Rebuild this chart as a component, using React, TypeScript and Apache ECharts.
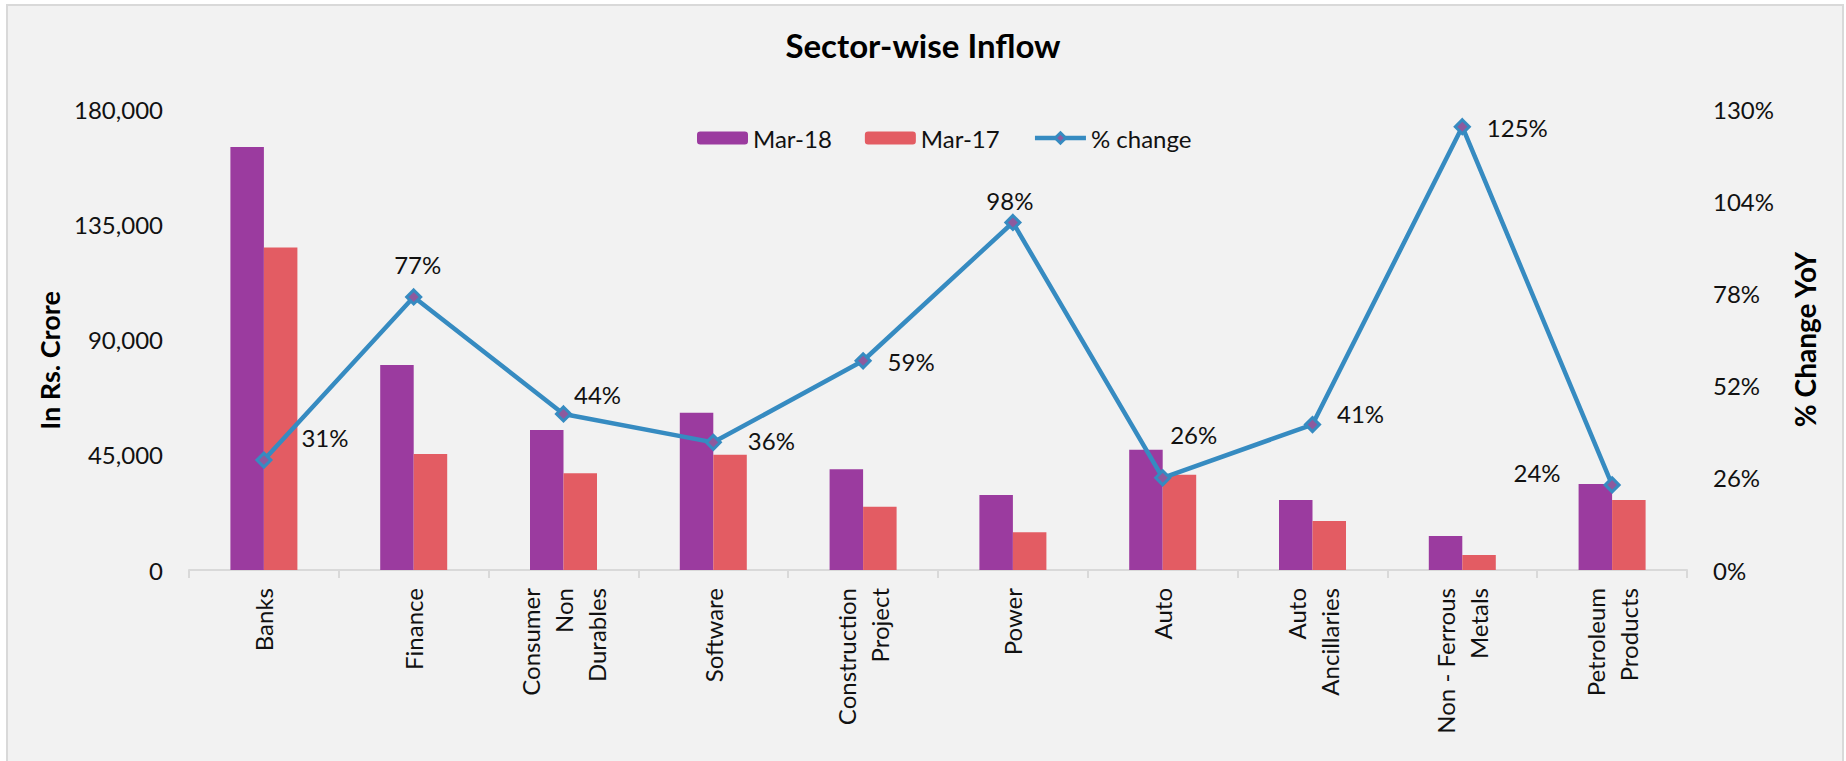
import React, { useEffect, useRef } from "react";
import * as echarts from "echarts";

const categories = [
  "Banks",
  "Finance",
  "Consumer\nNon\nDurables",
  "Software",
  "Construction\nProject",
  "Power",
  "Auto",
  "Auto\nAncillaries",
  "Non - Ferrous\nMetals",
  "Petroleum\nProducts",
];
const mar18 = [165200, 80000, 54700, 61400, 39300, 29300, 47000, 27300, 13300, 33600];
const mar17 = [125900, 45300, 37800, 45000, 24700, 14700, 37200, 19100, 5900, 27300];
const pctChange = [31, 77, 44, 36, 59, 98, 26, 41, 125, 24];
const leftTicks = { min: 0, max: 180000, interval: 45000 };
const rightTicks = { min: 0, max: 130, interval: 26 };

// label placement for each % point (style only)
const labelPlacement: { position: string; offset: [number, number] }[] = [
  { position: "right", offset: [24, -23] },
  { position: "top", offset: [4, -7] },
  { position: "right", offset: [-3, -19] },
  { position: "right", offset: [21, -2] },
  { position: "right", offset: [11, 1] },
  { position: "top", offset: [-3, 4] },
  { position: "right", offset: [-6, -43] },
  { position: "right", offset: [11, -11] },
  { position: "right", offset: [11, 1] },
  { position: "left", offset: [-38, -12] },
];

const FONT = "Lato, 'Open Sans', sans-serif";
const TXT = "#111111";
const BLUE = "#368bc1";

export default function App() {
  const ref = useRef<HTMLDivElement>(null);
  useEffect(() => {
    if (!ref.current) return;
    const chart = echarts.init(ref.current, null, { renderer: "svg" });
    const fmt = (v: number) => v.toLocaleString("en-US");
    chart.setOption({
      animation: false,
      backgroundColor: "#ffffff",
      textStyle: { fontFamily: FONT, color: TXT },
      graphic: [
        {
          type: "rect",
          z: -10,
          silent: true,
          shape: { x: 7, y: 5, width: 1836, height: 800 },
          style: { fill: "#f2f2f2", stroke: "#d9d9d9", lineWidth: 2 },
        },
      ],
      title: {
        text: "Sector-wise Inflow",
        left: "center",
        top: 28,
        padding: 0,
        textStyle: { fontFamily: FONT, fontWeight: "bold", fontSize: 33, color: "#000" },
      },
      legend: {
        left: 692,
        top: 121,
        itemWidth: 51,
        itemHeight: 13,
        itemGap: 33,
        textStyle: { fontFamily: FONT, fontSize: 24, color: TXT },
        data: [
          { name: "Mar-18" },
          { name: "Mar-17" },
          {
            name: "% change",
            lineStyle: { width: 4.5, color: BLUE },
            itemStyle: { color: "#8d5a9e", borderColor: BLUE, borderWidth: 3 },
          },
        ],
      },
      grid: { left: 189, right: 159, top: 109, bottom: 191 },
      xAxis: {
        type: "category",
        data: categories,
        axisLine: { show: true, lineStyle: { color: "#d9d9d9", width: 2 } },
        axisTick: { show: true, length: 8, lineStyle: { color: "#d9d9d9", width: 2 } },
        axisLabel: {
          rotate: 90,
          interval: 0,
          margin: 18,
          fontSize: 24,
          lineHeight: 33,
          color: TXT,
          fontFamily: FONT,
        },
      },
      yAxis: [
        {
          type: "value",
          ...leftTicks,
          name: "In Rs. Crore",
          nameLocation: "middle",
          nameGap: 126,
          nameTextStyle: { fontFamily: FONT, fontWeight: "bold", fontSize: 27, color: "#000", padding: [0, 42, 0, 0] },
          splitLine: { show: false },
          axisLine: { show: false },
          axisTick: { show: false },
          axisLabel: { fontSize: 24, margin: 26, color: TXT, fontFamily: FONT, formatter: fmt },
        },
        {
          type: "value",
          ...rightTicks,
          name: "% Change YoY",
          nameLocation: "middle",
          nameGap: 104,
          nameTextStyle: { fontFamily: FONT, fontWeight: "bold", fontSize: 28, color: "#000" },
          splitLine: { show: false },
          axisLine: { show: false },
          axisTick: { show: false },
          axisLabel: { fontSize: 24, margin: 26, color: TXT, fontFamily: FONT, formatter: "{value}%" },
        },
      ],
      series: [
        {
          name: "Mar-18",
          type: "bar",
          data: mar18,
          barWidth: 33.5,
          barGap: "0%",
          itemStyle: { color: "#9b3b9f" },
        },
        {
          name: "Mar-17",
          type: "bar",
          data: mar17,
          barWidth: 33.5,
          barGap: "0%",
          itemStyle: { color: "#e35c63" },
        },
        {
          name: "% change",
          type: "line",
          yAxisIndex: 1,
          z: 5,
          symbol: "diamond",
          symbolSize: 14,
          lineStyle: { color: BLUE, width: 4.5 },
          itemStyle: { color: "#8d5a9e", borderColor: BLUE, borderWidth: 3 },
          data: pctChange.map((v, i) => ({
            value: v,
            label: {
              show: true,
              position: labelPlacement[i].position,
              offset: labelPlacement[i].offset,
            },
          })),
          label: {
            show: true,
            formatter: "{c}%",
            fontSize: 24,
            color: TXT,
            fontFamily: FONT,
          },
        },
      ],
    });
    return () => chart.dispose();
  }, []);
  return (
    <div
      ref={ref}
      style={{ position: "absolute", left: 0, top: 0, width: 1846, height: 761 }}
    />
  );
}
